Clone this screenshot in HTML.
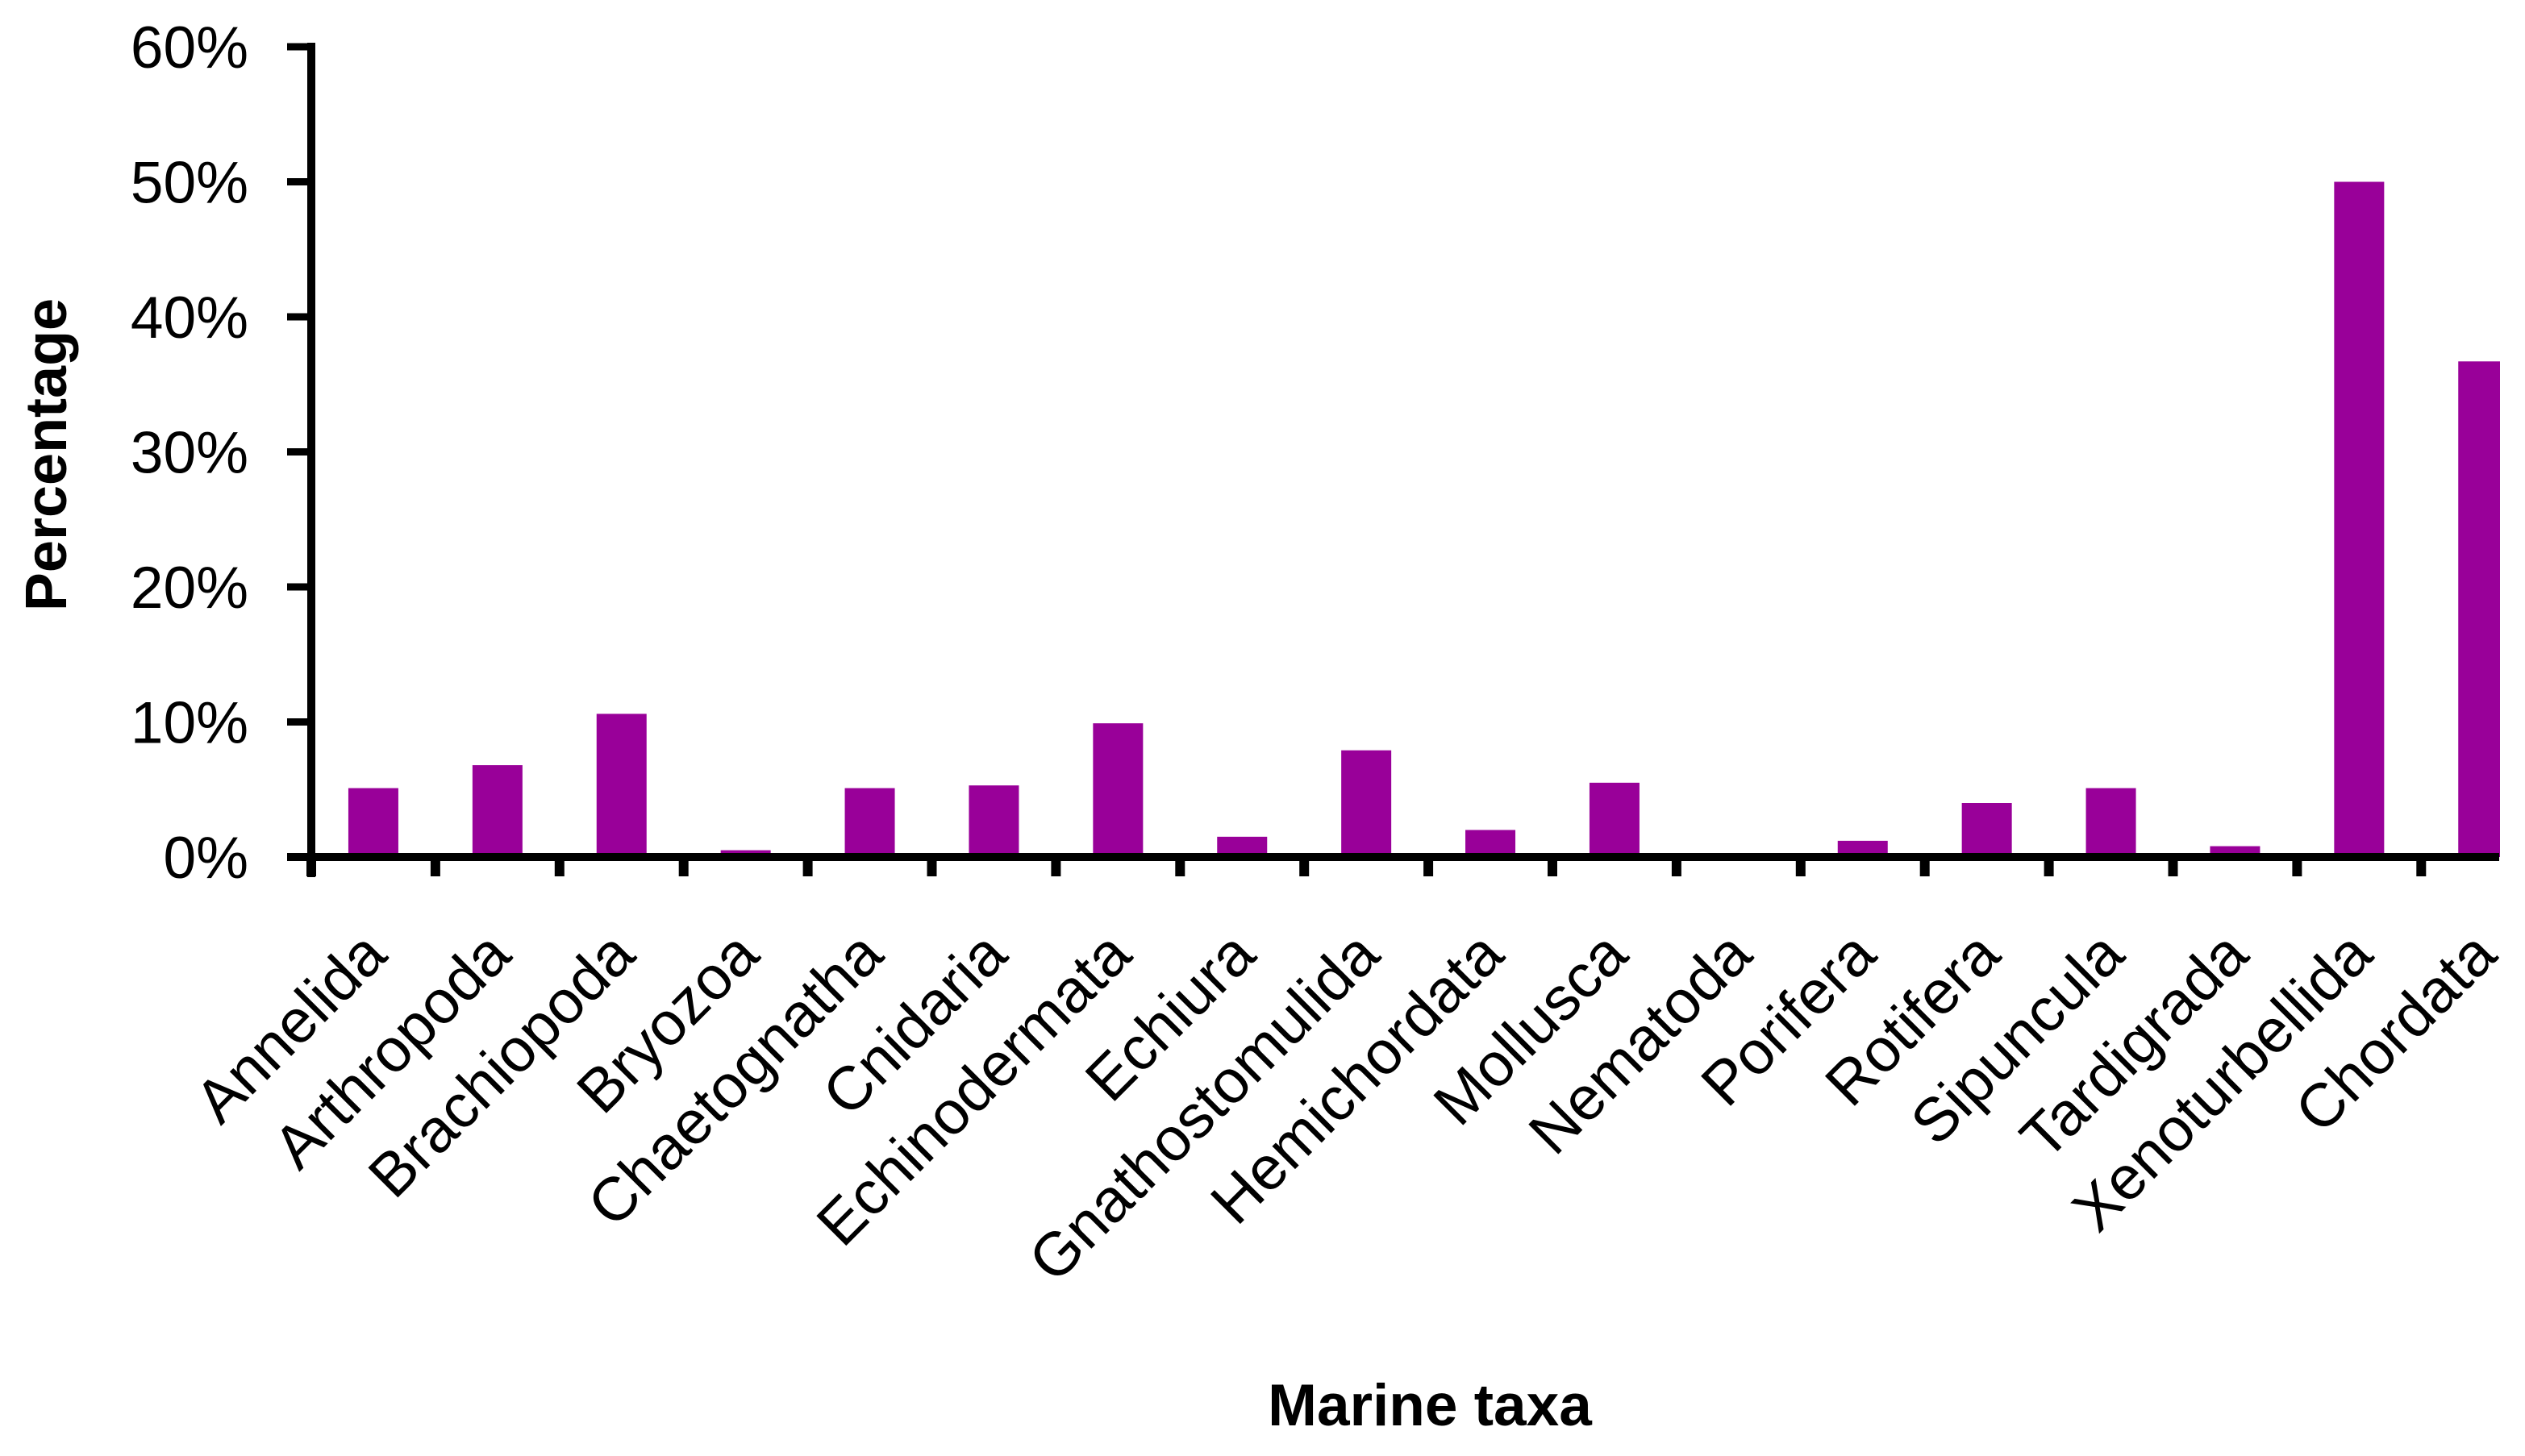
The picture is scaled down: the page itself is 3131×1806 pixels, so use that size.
<!DOCTYPE html>
<html><head><meta charset="utf-8"><style>
html,body{margin:0;padding:0;background:#fff;}
svg{display:block;}
text{font-family:"Liberation Sans",sans-serif;fill:#000;}
</style></head><body>
<svg id="chart" width="3131" height="1806" viewBox="0 0 3131 1806" xmlns="http://www.w3.org/2000/svg">
<rect x="0" y="0" width="3131" height="1806" fill="#fff"/>
<defs><clipPath id="plotclip"><rect x="0" y="0" width="3100" height="1806"/></clipPath></defs>
<g id="plot"></g>
<text x="0" y="0" transform="translate(82,564) rotate(-90)" text-anchor="middle" font-size="72" font-weight="bold">Percentage</text>
<text x="1773" y="1768" text-anchor="middle" font-size="73" font-weight="bold">Marine taxa</text>
</svg>
<script>
const categories = ["Annelida","Arthropoda","Brachiopoda","Bryozoa","Chaetognatha","Cnidaria","Echinodermata","Echiura","Gnathostomulida","Hemichordata","Mollusca","Nematoda","Porifera","Rotifera","Sipuncula","Tardigrada","Xenoturbellida","Chordata"];
const values = [5.1,6.8,10.6,0.5,5.1,5.3,9.9,1.5,7.9,2.0,5.5,0,1.2,4.0,5.1,0.8,50.0,36.7];
const yTicks = [0,10,20,30,40,50,60];
const yTickLabels = ["0%","10%","20%","30%","40%","50%","60%"];

const NS = "http://www.w3.org/2000/svg";
const g = document.getElementById("plot");
const x0 = 386, step = 153.9, y0 = 1063, yTop = 58, xEnd = 3099, yMax = 60;
function yScale(v){ return y0 - (v / yMax) * (y0 - yTop); }
function xCenter(i){ return x0 + step * (i + 0.5); }
function mk(tag, attrs){ const e = document.createElementNS(NS, tag); for (const k in attrs) e.setAttribute(k, attrs[k]); return e; }

const barsG = mk("g", {"clip-path": "url(#plotclip)"});
g.appendChild(barsG);
values.forEach((v, i) => {
  const yv = yScale(v);
  const b = mk("rect", {x: xCenter(i) - 31, y: yv, width: 62, height: Math.max(0, y0 - yv), fill: "#990099"});
  
  
  barsG.appendChild(b);
});

const ya = mk("line", {x1: x0, y1: yTop - 5, x2: x0, y2: y0 + 25, stroke: "#000", "stroke-width": 10});


g.appendChild(ya);
yTicks.forEach((t, i) => {
  const y = yScale(t);
  const tk = mk("line", {x1: x0 - 30, y1: y, x2: x0, y2: y, stroke: "#000", "stroke-width": 9});
  
  
  g.appendChild(tk);
  const lb = mk("text", {x: 308, y: y + 26, "text-anchor": "end", "font-size": 73});
  lb.textContent = yTickLabels[i];
  
  
  g.appendChild(lb);
});

const xa = mk("line", {x1: x0 - 30, y1: y0, x2: xEnd, y2: y0, stroke: "#000", "stroke-width": 10});


g.appendChild(xa);
for (let k = 0; k < categories.length; k++) {
  const x = x0 + step * k;
  if (x > xEnd) break;
  const tk = mk("line", {x1: x, y1: y0, x2: x, y2: y0 + 24, stroke: "#000", "stroke-width": 12});
  
  
  g.appendChild(tk);
}
categories.forEach((c, i) => {
  const ax = xCenter(i) + 20, ay = 1188;
  const t = mk("text", {x: 0, y: 0, "text-anchor": "end", "font-size": 76, transform: "translate(" + ax + "," + ay + ") rotate(-45)"});
  t.textContent = c;
  
  
  g.appendChild(t);
});
</script>
</body></html>
